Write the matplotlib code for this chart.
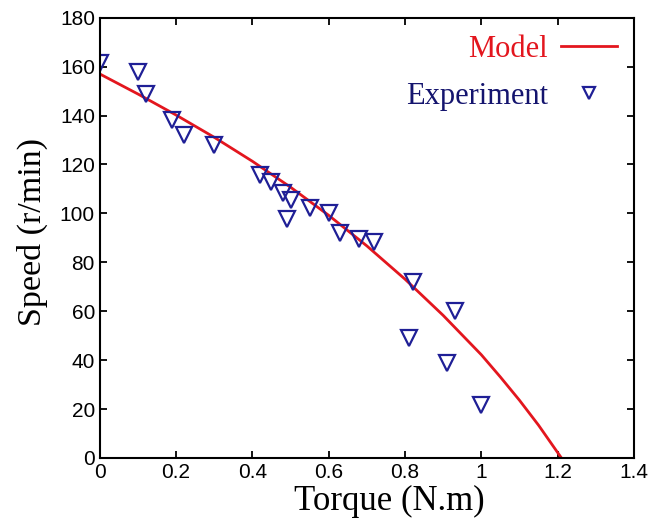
import matplotlib
matplotlib.use('Agg')
import matplotlib.pyplot as plt

# experiment points (torque N.m, speed r/min)
exp_torque = [0.0, 0.10, 0.12, 0.19, 0.22, 0.30, 0.42, 0.45, 0.48, 0.49, 0.50,
              0.55, 0.60, 0.63, 0.68, 0.72, 0.81, 0.82, 0.91, 0.93, 1.00]
exp_speed = [161.5, 158, 149, 138, 132, 128, 115.5, 113, 108.5, 97.5, 105.5,
             102, 100, 92, 89.5, 88.5, 49, 72, 39, 60, 21.5]

# model curve
model_torque = [0.0, 0.1, 0.2, 0.3, 0.4, 0.5, 0.6, 0.7, 0.8, 0.9, 1.0, 1.05, 1.1, 1.15, 1.21]
model_speed = [157, 148.8, 140.2, 131.1, 121.3, 110.7, 99.2, 86.7, 73.1, 58.3, 42.2,
               33.1, 23.6, 13.4, 0]

xticks = [0, 0.2, 0.4, 0.6, 0.8, 1, 1.2, 1.4]
xticklabels = ['0', '0.2', '0.4', '0.6', '0.8', '1', '1.2', '1.4']
yticks = [0, 20, 40, 60, 80, 100, 120, 140, 160, 180]

fig = plt.figure(figsize=(6.61, 5.21), dpi=100)
ax = fig.add_axes([0.151, 0.121, 0.808, 0.845])

ax.plot(model_torque, model_speed, color='#e3161e', lw=2, label='Model')
ax.plot(exp_torque, exp_speed, linestyle='none', marker='v', markersize=11,
        markerfacecolor='none', markeredgecolor='#1f1f96', markeredgewidth=1.6,
        color='#1f1f96', label='Experiment')

ax.set_xlim(0, 1.4)
ax.set_ylim(0, 180)
ax.set_xticks(xticks)
ax.set_xticklabels(xticklabels)
ax.set_yticks(yticks)

# ticks inward on all sides
ax.tick_params(direction='in', top=True, right=True, length=5, width=1.3,
               labelsize=15, pad=3.5)
for lbl in ax.get_xticklabels() + ax.get_yticklabels():
    lbl.set_family('Liberation Sans')
for sp in ax.spines.values():
    sp.set_linewidth(1.5)

ax.set_xlabel('Torque (N.m)', fontsize=25, family='Liberation Serif')
ax.set_ylabel('Speed (r/min)', fontsize=24.5, family='Liberation Serif')
ax.xaxis.set_label_coords(0.542, -0.062, transform=ax.transAxes)
ax.yaxis.set_label_coords(-0.097, 0.514, transform=ax.transAxes)
ax.xaxis.label.set_va('top')

leg = ax.legend(loc='upper right', markerfirst=False, frameon=False,
                prop={'family': 'Liberation Serif', 'size': 22},
                labelcolor=['#e3161e', '#14146e'], markerscale=0.8,
                handlelength=1.84, handletextpad=0.43, labelspacing=0.6,
                borderaxespad=0.15)

fig.savefig('out.png', dpi=100)
